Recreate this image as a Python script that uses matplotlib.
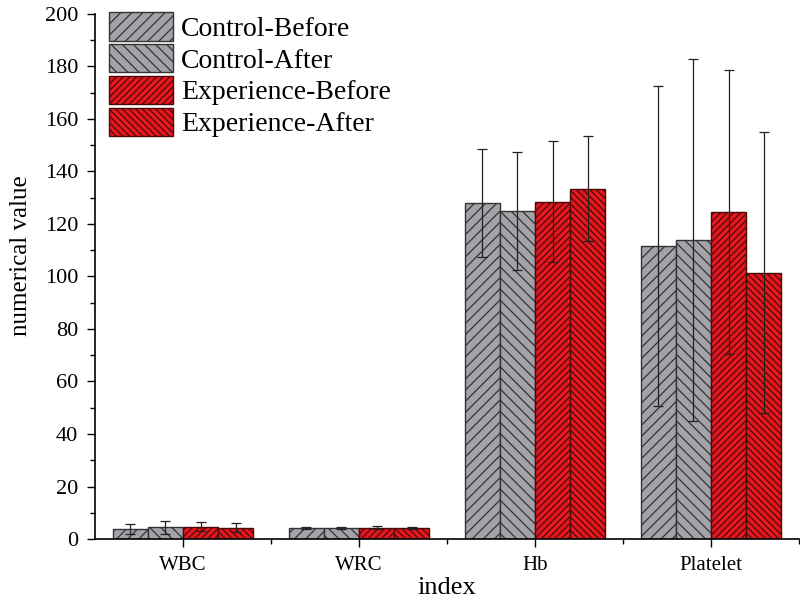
import numpy as np
import matplotlib
matplotlib.use("Agg")
import matplotlib.pyplot as plt
from matplotlib.ticker import MultipleLocator, FixedLocator

plt.rcParams["font.family"] = ["Liberation Serif", "DejaVu Serif"]
plt.rcParams["hatch.linewidth"] = 0.9

categories = ["WBC", "WRC", "Hb", "Platelet"]
series = ["Control-Before", "Control-After", "Experience-Before", "Experience-After"]

control_before = [3.8, 4.2, 128.0, 111.5]
control_after = [4.5, 4.1, 125.0, 114.0]
exp_before = [4.6, 4.3, 128.5, 124.5]
exp_after = [4.3, 4.3, 133.5, 101.5]

err_control_before = [1.8, 0.3, 20.5, 61.0]
err_control_after = [2.5, 0.4, 22.5, 69.0]
err_exp_before = [1.7, 0.6, 23.0, 54.0]
err_exp_after = [1.8, 0.3, 20.0, 53.5]

values = [control_before, control_after, exp_before, exp_after]
errors = [err_control_before, err_control_after, err_exp_before, err_exp_after]
colors = ["#a2a2a8", "#a2a2a8", "#e8161e", "#e8161e"]
edges = ["#333333", "#333333", "#4a0a0a", "#4a0a0a"]
hatches = ["///", "\\\\\\", "/////", "\\\\\\\\\\"]

fig = plt.figure(figsize=(8, 6.07), dpi=100)
ax = fig.add_axes([0.11875, 0.112, 0.88, 0.865])

x = np.arange(len(categories))
w = 0.2
for i in range(4):
    pos = x + (i - 1.5) * w
    ax.bar(pos, values[i], w, color=colors[i], edgecolor=edges[i],
           hatch=hatches[i], linewidth=1.0, label=series[i], zorder=2)
    ax.errorbar(pos, values[i], yerr=errors[i], fmt="none", ecolor="#222222",
                elinewidth=0.9, capsize=3.6, capthick=0.9, zorder=3)

ax.set_xlim(-0.5, 3.5)
ax.set_ylim(0, 200)
ax.set_xticks(x)
ax.set_xticklabels(categories, fontsize=15)
ax.xaxis.set_minor_locator(FixedLocator([0.5, 1.5, 2.5, 3.5]))
ax.yaxis.set_major_locator(MultipleLocator(20))
ax.yaxis.set_minor_locator(MultipleLocator(10))
ax.tick_params(axis="y", labelsize=16, pad=6)
ax.tick_params(axis="x", pad=6)
ax.tick_params(which="major", direction="out", length=6, width=1)
ax.tick_params(which="minor", direction="out", length=3.5, width=1)

for s in ["top", "right"]:
    ax.spines[s].set_visible(False)
for s in ["left", "bottom"]:
    ax.spines[s].set_linewidth(1.2)

ax.set_xlabel("index", fontsize=19, labelpad=2)
ax.set_ylabel("numerical value", fontsize=18)
ax.yaxis.set_label_coords(-0.09, 0.54)

ax.legend(loc="upper left", bbox_to_anchor=(0.0, 1.03), frameon=False,
          fontsize=20, handlelength=2.3, handleheight=1.2,
          handletextpad=0.3, labelspacing=0.08, borderaxespad=0.3,
          borderpad=0.2)

fig.savefig("out.png", dpi=100)
